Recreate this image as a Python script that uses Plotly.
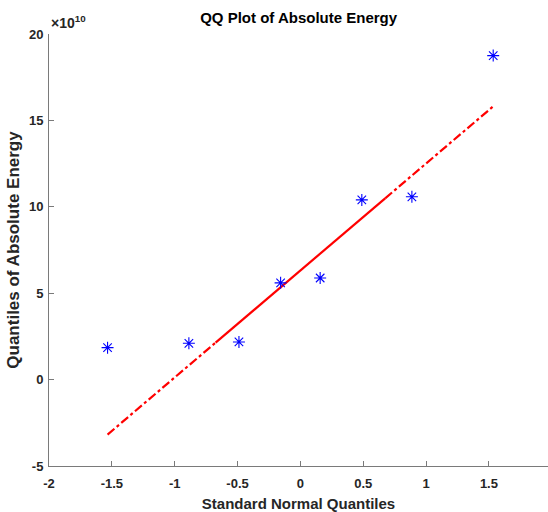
from statistics import NormalDist
import numpy as np
import plotly.graph_objects as go

# Absolute energy samples, in units of 1e10
energy = [1.85, 2.10, 2.18, 5.60, 5.88, 10.40, 10.58, 18.75]
scale_exp = 10

x_ticks = [-2, -1.5, -1, -0.5, 0, 0.5, 1, 1.5]
x_tick_text = ["-2", "-1.5", "-1", "-0.5", "0", "0.5", "1", "1.5"]
y_ticks = [-5, 0, 5, 10, 15, 20]
y_tick_text = ["-5", "0", "5", "10", "15", "20"]

# Sample quantiles vs. standard normal quantiles
y_sorted = np.sort(np.array(energy))
n = len(y_sorted)
probs = (np.arange(1, n + 1) - 0.5) / n
nd = NormalDist()
x_q = np.array([nd.inv_cdf(p) for p in probs])

# Reference line through the first and third quartiles
def pct(data, p):
    pos = p * len(data) + 0.5
    lo = int(np.floor(pos))
    frac = pos - lo
    return data[lo - 1] + frac * (data[lo] - data[lo - 1])

q1, q3 = pct(y_sorted, 0.25), pct(y_sorted, 0.75)
z1, z3 = nd.inv_cdf(0.25), nd.inv_cdf(0.75)
slope = (q3 - q1) / (z3 - z1)
icpt = q1 - slope * z1
line_y = lambda xx: icpt + slope * xx

fig = go.Figure()
# extended parts (dash-dot)
fig.add_trace(go.Scatter(
    x=[x_q[0], z1], y=[line_y(x_q[0]), line_y(z1)], mode="lines",
    line=dict(color="red", width=2.2, dash="dashdot"), showlegend=False))
fig.add_trace(go.Scatter(
    x=[z3, x_q[-1]], y=[line_y(z3), line_y(x_q[-1])], mode="lines",
    line=dict(color="red", width=2.2, dash="dashdot"), showlegend=False))
# solid interquartile segment
fig.add_trace(go.Scatter(
    x=[z1, z3], y=[q1, q3], mode="lines",
    line=dict(color="red", width=2.2), showlegend=False))
# data points
fig.add_trace(go.Scatter(
    x=x_q, y=y_sorted, mode="markers",
    marker=dict(symbol="asterisk-open", size=10, color="blue",
                line=dict(color="blue", width=1.1)),
    showlegend=False))

axis_font = dict(family="Liberation Sans, Arial, sans-serif", size=13, color="#262626")
fig.update_layout(
    width=548, height=512,
    margin=dict(l=49, r=0, t=34, b=46),
    plot_bgcolor="white", paper_bgcolor="white",
    font=dict(family="Liberation Sans, Arial, sans-serif", color="#262626"),
    title=dict(text="<b>QQ Plot of Absolute Energy</b>", x=0.545, xanchor="center",
               y=0.965, yanchor="middle", font=dict(size=15, color="black")),
    xaxis=dict(range=[-2, 1.97], tickvals=x_ticks, ticktext=[f"<b>{t}</b>" for t in x_tick_text],
               showgrid=False, zeroline=False, showline=True, linecolor="#7a7a7a", linewidth=1,
               ticks="inside", ticklen=5, tickcolor="#7a7a7a", tickfont=axis_font,
               ticklabelstandoff=5,
               title=dict(text="<b>Standard Normal Quantiles</b>", standoff=9,
                          font=dict(size=15, color="#262626"))),
    yaxis=dict(range=[-5, 20], tickvals=y_ticks, ticktext=[f"<b>{t}</b>" for t in y_tick_text],
               showgrid=False, zeroline=False, showline=True, linecolor="#7a7a7a", linewidth=1,
               ticks="inside", ticklen=5, tickcolor="#7a7a7a", tickfont=axis_font,
               ticklabelstandoff=2,
               title=dict(text="<b>Quantiles of Absolute Energy</b>", standoff=4,
                          font=dict(size=17, color="#262626"))),
)
fig.add_annotation(
    xref="paper", yref="paper", x=0, y=1, xanchor="left", yanchor="bottom", yshift=1,
    text=f"<b>×10<sup>{scale_exp}</sup></b>", showarrow=False,
    font=dict(size=14, color="#262626"))

fig.write_html("out.html")
